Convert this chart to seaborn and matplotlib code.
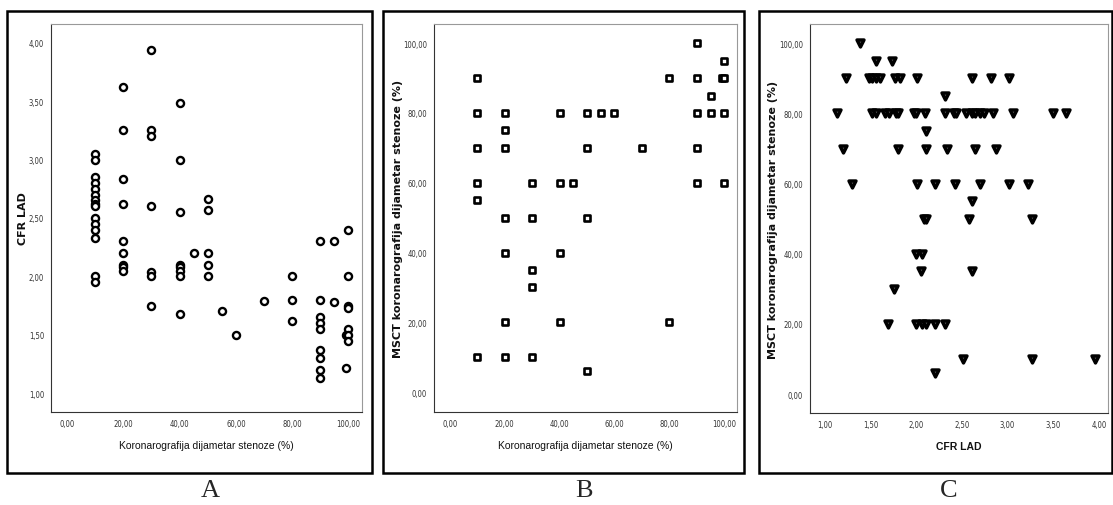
import numpy as np
import matplotlib
matplotlib.use("Agg")
import matplotlib.pyplot as plt
from matplotlib.patches import Rectangle
from matplotlib.ticker import FuncFormatter
import pandas as pd
import seaborn as sns

# panel A: coronary angiography stenosis (%) vs CFR LAD
a_x = [10]*15 + [20]*9 + [30]*7 + [40]*8 + [45] + [50]*5 + [55, 60, 70] + [80]*3 + [90]*9 + [95]*2 + [99]*2 + [100]*7
a_y = [3.05, 3.00, 2.85, 2.80, 2.75, 2.70, 2.65, 2.62, 2.60, 2.50, 2.45, 2.40, 2.33, 2.00, 1.95,
       3.62, 3.25, 2.83, 2.62, 2.30, 2.20, 2.10, 2.08, 2.05,
       3.94, 3.25, 3.20, 2.60, 2.04, 2.00, 1.75,
       3.48, 3.00, 2.55, 2.10, 2.08, 2.05, 2.00, 1.68,
       2.20,
       2.66, 2.57, 2.20, 2.10, 2.00,
       1.70, 1.50, 1.79,
       2.00, 1.80, 1.62,
       2.30, 1.80, 1.65, 1.60, 1.55, 1.37, 1.30, 1.20, 1.13,
       2.30, 1.78,
       1.50, 1.22,
       2.40, 2.00, 1.75, 1.73, 1.55, 1.50, 1.45]

# panel B: angiography stenosis (%) vs MSCT stenosis (%)
b_x = [10]*6 + [20]*7 + [30]*5 + [40]*4 + [45] + [50]*4 + [55, 60, 70] + [80]*2 + [90]*5 + [95]*2 + [99] + [100]*4
b_y = [90, 80, 70, 60, 55, 10,
       80, 75, 70, 50, 40, 20, 10,
       60, 50, 35, 30, 10,
       80, 60, 40, 20,
       60,
       80, 70, 50, 6,
       80, 80, 70,
       90, 20,
       100, 90, 80, 70, 60,
       85, 80,
       90,
       95, 90, 80, 60]

# panel C: CFR LAD vs MSCT stenosis (%)
c_x = [1.38,
       1.56, 1.73,
       1.23, 1.48, 1.52, 1.56, 1.60, 1.77, 1.82, 2.01, 2.61, 2.82, 3.02,
       2.31,
       1.13, 1.51, 1.56, 1.66, 1.70, 1.78, 1.80, 1.97, 2.00, 2.10, 2.31, 2.41, 2.44,
       2.55, 2.61, 2.64, 2.70, 2.74, 2.84, 3.06, 3.50, 3.64,
       2.11,
       1.20, 1.80, 2.11, 2.34, 2.64, 2.87,
       1.30, 2.01, 2.21, 2.42, 2.70, 3.02, 3.22,
       2.61,
       2.08, 2.11, 2.58, 3.27,
       2.00, 2.06,
       2.05, 2.61,
       1.76,
       1.69, 2.00, 2.06, 2.11, 2.21, 2.31,
       2.51, 3.27, 3.96,
       2.21]
c_y = ([100] + [95]*2 + [90]*11 + [85] + [80]*22 + [75] + [70]*6 + [60]*7 + [55]
       + [50]*4 + [40]*2 + [35]*2 + [30] + [20]*6 + [10]*3 + [6])

df_a = pd.DataFrame({"x": a_x, "y": a_y})
df_b = pd.DataFrame({"x": b_x, "y": b_y})
df_c = pd.DataFrame({"x": c_x, "y": c_y})

sns.set_style("white")
plt.rcParams['font.family'] = ['Liberation Sans', 'DejaVu Sans']

W, H = 1113, 506
fig = plt.figure(figsize=(W/100, H/100), dpi=100)

def px_axes(l, t, r, b):
    return fig.add_axes([l/W, 1-b/H, (r-l)/W, (b-t)/H])

comma = FuncFormatter(lambda v, p: "{:.2f}".format(v).replace('.', ','))

def style(ax, xlim, ylim, xt, yt, xlab, ylab, ylab_x):
    ax.set_xlim(*xlim)
    ax.set_ylim(*ylim)
    ax.set_xticks(xt)
    ax.set_yticks(yt)
    ax.xaxis.set_major_formatter(comma)
    ax.yaxis.set_major_formatter(comma)
    ax.tick_params(direction='out', length=3, width=0.7, colors='#444444',
                   labelsize=5.5, labelcolor='#333333', pad=2)
    for lab in ax.get_xticklabels() + ax.get_yticklabels():
        lab.set_family(['Liberation Sans Narrow', 'DejaVu Sans'])
        lab.set_stretch('condensed')
    for s in ['top', 'right']:
        ax.spines[s].set_color('#999999')
        ax.spines[s].set_linewidth(0.8)
    for s in ['left', 'bottom']:
        ax.spines[s].set_color('#333333')
        ax.spines[s].set_linewidth(0.8)
    ax.set_xlabel(xlab, fontsize=7.5, color='#111111', labelpad=9,
                  fontweight='bold' if xlab == "CFR LAD" else 'normal')
    ax.set_ylabel(ylab, fontsize=8, fontweight='bold', color='#111111',
                  family='DejaVu Sans')
    ax.yaxis.set_label_coords(ylab_x, 0.5)

xlab = "Koronarografija dijametar stenoze (%)"
ylab_b = "MSCT koronarografija dijametar stenoze (%)"

ax1 = px_axes(51, 25, 362, 413)
sns.scatterplot(data=df_a, x="x", y="y", ax=ax1, marker='o', s=26,
                facecolor='white', edgecolor='black', linewidth=1.7)
style(ax1, (-5.7, 104.8), (0.84, 4.16), np.arange(0, 101, 20),
      np.arange(1, 4.01, 0.5), xlab, "CFR LAD", -0.074)

ax2 = px_axes(434, 25, 737, 413)
sns.scatterplot(data=df_b, x="x", y="y", ax=ax2, marker='s', s=24,
                facecolor='white', edgecolor='black', linewidth=1.9)
style(ax2, (-5.7, 104.6), (-5.7, 105.5), np.arange(0, 101, 20),
      np.arange(0, 101, 20), xlab, ylab_b, -0.102)

ax3 = px_axes(810, 25, 1108, 414)
sns.scatterplot(data=df_c, x="x", y="y", ax=ax3, marker='v', s=26,
                facecolor='#555555', edgecolor='black', linewidth=2.4)
style(ax3, (0.836, 4.10), (-5.4, 105.5), np.arange(1, 4.01, 0.5),
      np.arange(0, 101, 20), "CFR LAD", ylab_b, -0.107)

# outer panel frames
for (l, t, r, b) in [(7, 12, 372, 474), (383, 12, 744, 474), (759, 12, 1112, 474)]:
    fig.patches.append(Rectangle((l/W, 1-b/H), (r-l)/W, (b-t)/H,
                                 transform=fig.transFigure, fill=False,
                                 edgecolor='black', linewidth=1.8))

for lab, xc in [("A", 210), ("B", 584), ("C", 949)]:
    fig.text(xc/W, 1-491/H, lab, ha='center', va='center', fontsize=19,
             family=['Liberation Serif', 'DejaVu Serif'])

fig.savefig("out.png", dpi=100)
